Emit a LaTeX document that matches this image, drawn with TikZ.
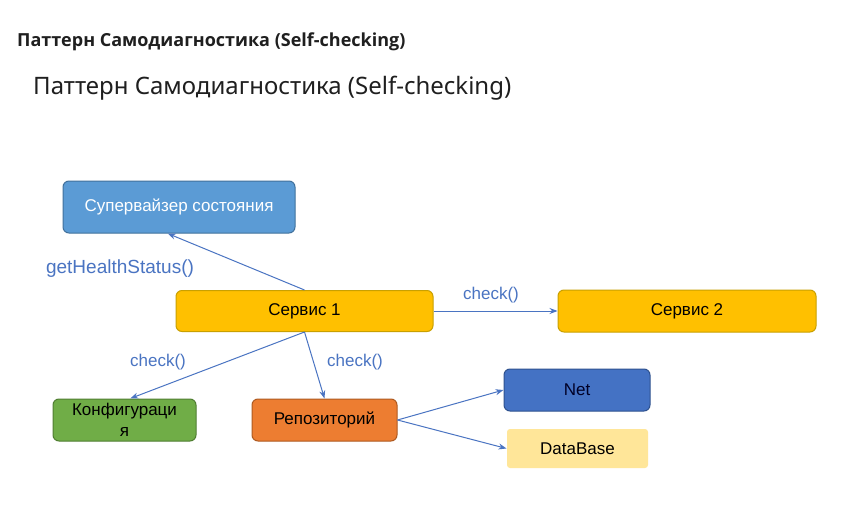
\documentclass[tikz,border=0pt]{standalone}
\usepackage{fontspec}
\setmainfont{Liberation Sans}
\newfontfamily\titlefont{Open Sans}
\newfontfamily\headfont{Noto Sans}
\usepackage{xcolor}
\usetikzlibrary{arrows.meta}

\definecolor{supfill}{HTML}{5B9BD5}
\definecolor{supline}{HTML}{41719C}
\definecolor{srvfill}{HTML}{FFC000}
\definecolor{srvline}{HTML}{C9A000}
\definecolor{cfgfill}{HTML}{70AD47}
\definecolor{cfgline}{HTML}{507E32}
\definecolor{repfill}{HTML}{ED7D31}
\definecolor{repline}{HTML}{AE5A21}
\definecolor{netfill}{HTML}{4472C4}
\definecolor{netline}{HTML}{2F528F}
\definecolor{dbfill}{HTML}{FFE699}
\definecolor{callcol}{HTML}{4A74C2}

\tikzset{
  box/.style={rounded corners=6pt, draw, line width=1pt, inner sep=2pt,
    align=center, font=\fontsize{17}{19}\selectfont},
  call/.style={-{Stealth[length=8pt,width=6pt]}, draw=callcol, line width=1pt},
  calltext/.style={text=callcol, font=\fontsize{17}{19}\selectfont, inner sep=0pt}
}

\begin{document}
\begin{tikzpicture}[x=1pt,y=-1pt]
 \useasboundingbox[fill=white] (0,0) rectangle (846,524);

 \node[anchor=west, inner sep=0pt, text=black!88, font=\titlefont\bfseries\fontsize{18}{20}\selectfont] (title) at (17,42) {Паттерн Самодиагностика (Self-checking)};
 \node[anchor=west, inner sep=0pt, text=black!88, font=\headfont\fontsize{24}{27}\selectfont] (head) at (33,88) {Паттерн Самодиагностика (Self-checking)};

 \node[box, fill=supfill, draw=supline, text=white, minimum width=232pt, minimum height=52pt] (sup) at (179,207) {Супервайзер состояния};
 \node[box, fill=srvfill, draw=srvline, minimum width=257pt, minimum height=41pt] (srv1) at (304.5,311) {Сервис 1};
 \node[box, fill=srvfill, draw=srvline, minimum width=258pt, minimum height=42pt] (srv2) at (687,311) {Сервис 2};
 \node[box, fill=cfgfill, draw=cfgline, minimum width=143pt, minimum height=42pt, font=\fontsize{17}{21}\selectfont] (cfg) at (124.5,420) {Конфигураци\\я};
 \node[box, fill=repfill, draw=repline, minimum width=145pt, minimum height=42pt] (repo) at (324.5,420) {Репозиторий};
 \node[box, fill=netfill, draw=netline, text=black!85!blue, minimum width=146pt, minimum height=42pt] (net) at (577,390) {Net};
 \node[box, fill=dbfill, draw=none, rounded corners=3pt, minimum width=141pt, minimum height=39pt] (db) at (577.5,448.5) {DataBase};

 \node[calltext, font=\fontsize{19}{21}\selectfont] (health) at (120,269) {getHealthStatus()};
 \node[calltext] (chk2) at (491,295) {check()};
 \node[calltext] (chkcfg) at (158,362) {check()};
 \node[calltext] (chkrepo) at (355,362) {check()};

 \draw[call] (srv1.north) -- (sup.247);
 \draw[call] (srv1.east) -- (srv2.west);
 \draw[call] (srv1.south) -- (cfg.75);
 \draw[call] (srv1.south) -- (repo.north);
 \draw[call] (repo.east) -- (net.west);
 \draw[call] (repo.east) -- (db.west);
\end{tikzpicture}
\end{document}
